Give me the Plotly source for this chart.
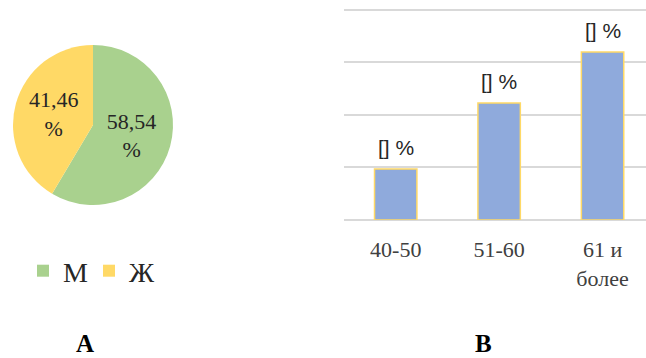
import plotly.graph_objects as go

# Data
sex_labels = ["М", "Ж"]
sex_values = [58.54, 41.46]
sex_colors = ["#a9d18e", "#ffd966"]

age_groups = ["40-50", "51-60", "61 и<br>более"]
age_values = [9.7, 22.3, 32.0]
age_text = ["[] %", "[] %", "[] %"]

W, H = 646, 358
fig = go.Figure()

fig.add_trace(go.Pie(
    labels=sex_labels, values=sex_values, sort=False, direction="clockwise", rotation=0,
    marker=dict(colors=sex_colors, line=dict(width=0)),
    texttemplate="%{value:.2f}<br>%", textposition="inside", insidetextorientation="horizontal",
    textfont=dict(family="Liberation Serif", size=22, color="#262626"),
    domain=dict(x=[13 / W, 173 / W], y=[(H - 205) / H, (H - 45) / H]),
    hoverinfo="skip", showlegend=True,
))

fig.add_trace(go.Bar(
    x=age_groups, y=age_values,
    marker=dict(color="#8faadc", line=dict(color="#ffd966", width=1.5)),
    width=0.41, showlegend=False, hoverinfo="skip",
))

ymax = 40.3
annotations = [
    dict(text="<b>А</b>", x=85 / W, y=0, xref="paper", yref="paper",
         xanchor="center", yanchor="bottom", borderpad=0, showarrow=False,
         font=dict(family="Liberation Serif", size=25, color="#000000")),
    dict(text="<b>В</b>", x=483 / W, y=0, xref="paper", yref="paper",
         xanchor="center", yanchor="bottom", borderpad=0, showarrow=False,
         font=dict(family="Liberation Serif", size=25, color="#000000")),
]
for g, v, t in zip(age_groups, age_values, age_text):
    annotations.append(dict(text=t, x=g, y=v, xref="x", yref="y", yanchor="bottom",
                            xanchor="center", yshift=8, showarrow=False,
                            font=dict(family="Liberation Sans", size=21, color="#262626")))

fig.update_layout(
    width=W, height=H, margin=dict(l=0, r=0, t=0, b=0),
    paper_bgcolor="white", plot_bgcolor="white",
    separators=", ",
    uniformtext=dict(minsize=22, mode="show"),
    xaxis=dict(domain=[344 / W, 1.0], range=[-0.5, 2.42], showgrid=False, showline=False,
               ticks="", tickfont=dict(family="Liberation Serif", size=22, color="#404040"),
               ticklabelstandoff=14, fixedrange=True),
    yaxis=dict(domain=[(H - 220) / H, (H - 10 + 0.3 * 5.25) / H], range=[0, ymax], dtick=10,
               showgrid=True, gridcolor="#d9d9d9", gridwidth=1.5, zeroline=True,
               zerolinecolor="#d9d9d9", zerolinewidth=1.5, showticklabels=False, fixedrange=True),
    legend=dict(orientation="h", x=23 / W, y=(H - 271) / H, xanchor="left", yanchor="middle",
                font=dict(family="Liberation Serif", size=28, color="#262626"),
                itemwidth=30, entrywidth=21, entrywidthmode="pixels", bgcolor="rgba(0,0,0,0)"),
    annotations=annotations,
)

fig.write_html("out.html")
